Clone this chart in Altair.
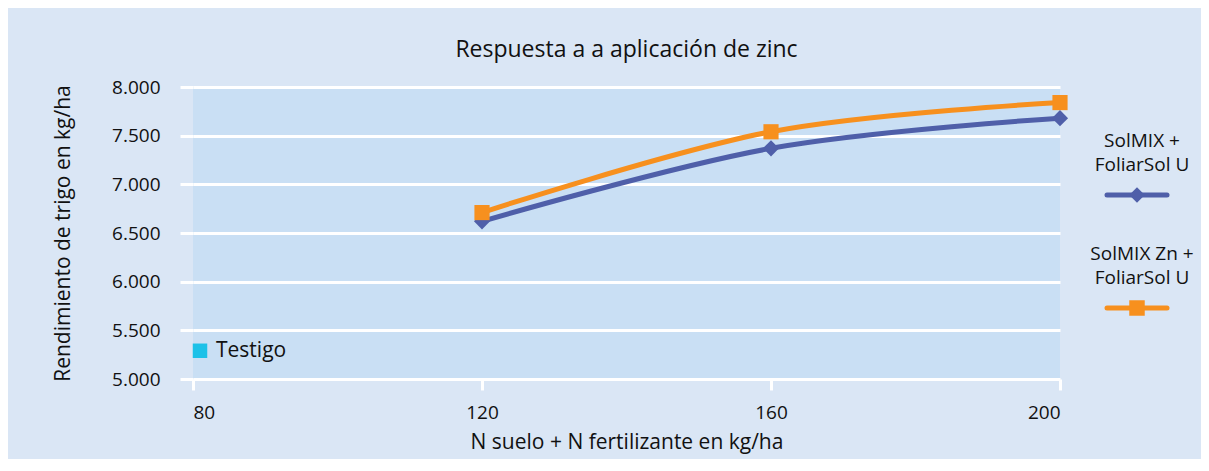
import altair as alt
import pandas as pd

# ---- data ----
n_levels = [120, 160, 200]
serie_a = "SolMIX + FoliarSol U"
serie_b = "SolMIX Zn + FoliarSol U"
yield_a = [6620, 7370, 7680]
yield_b = [6710, 7540, 7840]
testigo_n = [80]
testigo_yield = [5290]
y_ticks = [5000, 5500, 6000, 6500, 7000, 7500, 8000]
x_ticks = [80, 120, 160, 200]

BLUE = "#4f5fa9"
ORANGE = "#f7901e"
CYAN = "#1cc1e8"
FONT = "Open Sans"
TXT = "#111111"

df = pd.DataFrame({
    "N": n_levels * 2,
    "rend": yield_a + yield_b,
    "serie": [serie_a] * 3 + [serie_b] * 3,
})
test_df = pd.DataFrame({"N": testigo_n, "rend": testigo_yield, "label": ["Testigo"]})

xscale = alt.Scale(domain=[80, 200], nice=False)
yscale = alt.Scale(domain=[5000, 8000], nice=False)
cscale = alt.Scale(domain=[serie_a, serie_b], range=[BLUE, ORANGE])

base = alt.Chart(df).encode(
    x=alt.X("N:Q", scale=xscale,
            axis=alt.Axis(values=x_ticks, title="N suelo + N fertilizante en kg/ha",
                          grid=False, domain=False, tickColor="white", tickWidth=3,
                          tickSize=11, labelPadding=13, labelFontSize=19,
                          titleFontSize=21, titleFontWeight="normal", titlePadding=9,
                          labelColor=TXT, titleColor=TXT, labelFont=FONT,
                          titleFont=FONT)),
    y=alt.Y("rend:Q", scale=yscale,
            axis=alt.Axis(values=y_ticks, title="Rendimiento de trigo en kg/ha",
                          labelExpr="replace(format(datum.value, ','), ',', '.')",
                          grid=True, gridColor="white", gridWidth=3, gridOpacity=1,
                          domain=False, tickColor="white", tickWidth=3, tickSize=13,
                          labelPadding=20, labelFontSize=19, titleFontSize=21,
                          titleFontWeight="normal", titlePadding=38,
                          labelColor=TXT, titleColor=TXT, labelFont=FONT,
                          titleFont=FONT)),
    color=alt.Color("serie:N", scale=cscale, legend=None),
)

lines = base.mark_line(strokeWidth=5, interpolate="cardinal")
pts_a = base.transform_filter(alt.datum.serie == serie_a).mark_point(
    shape="diamond", filled=True, size=260, opacity=1)
pts_b = base.transform_filter(alt.datum.serie == serie_b).mark_square(size=230, opacity=1)

testigo = alt.Chart(test_df).mark_square(size=210, color=CYAN, opacity=1).encode(
    x=alt.X("N:Q", scale=xscale), y=alt.Y("rend:Q", scale=yscale),
    xOffset=alt.value(7))
testigo_txt = alt.Chart(test_df).mark_text(
    align="left", baseline="middle", dx=23, fontSize=21, font=FONT, color=TXT
).encode(x=alt.X("N:Q", scale=xscale), y=alt.Y("rend:Q", scale=yscale), text="label:N")

# ---- custom legend (outside plot area) ----
leg = pd.DataFrame({"serie": [serie_a, serie_b],
                    "l1": ["SolMIX +", "SolMIX Zn +"],
                    "l2": ["FoliarSol U", "FoliarSol U"]})
leg_a = leg[leg.serie == serie_a]
leg_b = leg[leg.serie == serie_b]

def legend_block(d, y_text, y_line, shape):
    t1 = alt.Chart(d).mark_text(fontSize=19, font=FONT, color=TXT, align="center",
                                baseline="middle").encode(
        x=alt.value(949), y=alt.value(y_text), text="l1:N")
    t2 = alt.Chart(d).mark_text(fontSize=19, font=FONT, color=TXT, align="center",
                                baseline="middle").encode(
        x=alt.value(949), y=alt.value(y_text + 24), text="l2:N")
    ln = alt.Chart(d).mark_rule(strokeWidth=5, strokeCap="round").encode(
        x=alt.value(914), x2=alt.value(974), y=alt.value(y_line),
        color=alt.Color("serie:N", scale=cscale, legend=None))
    mk = alt.Chart(d).mark_point(shape=shape, filled=True, size=240, opacity=1).encode(
        x=alt.value(944), y=alt.value(y_line),
        color=alt.Color("serie:N", scale=cscale, legend=None))
    return t1 + t2 + ln + mk

legend_a = legend_block(leg_a, 54, 108, "diamond")
legend_b = legend_block(leg_b, 167, 221, "square")

chart = alt.layer(lines, pts_a, pts_b, testigo, testigo_txt, legend_a, legend_b).properties(
    width=867, height=292,
    title=alt.TitleParams("Respuesta a a aplicación de zinc", fontSize=23, font=FONT,
                          fontWeight="normal", color=TXT, offset=16, anchor="middle"),
    background="#dae6f5",
    padding={"left": 185, "top": 79, "right": 141, "bottom": 80},
    autosize=alt.AutoSizeParams(type="none"),
).configure_view(fill="#c9dff4", stroke=None)

chart.save("out.html", embed_options={"renderer": "svg", "actions": False})
